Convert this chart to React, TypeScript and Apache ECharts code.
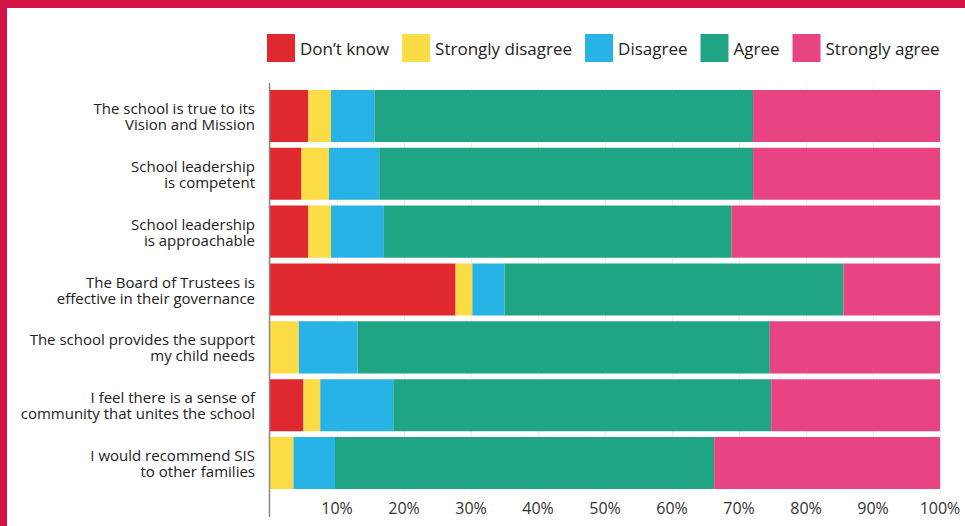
import React, { useEffect, useRef } from "react";
import * as echarts from "echarts";

const categories = [
  "The school is true to its\nVision and Mission",
  "School leadership\nis competent",
  "School leadership\nis approachable",
  "The Board of Trustees is\neffective in their governance",
  "The school provides the support\nmy child needs",
  "I feel there is a sense of\ncommunity that unites the school",
  "I would recommend SIS\nto other families",
];

const dontKnow = [5.7, 4.7, 5.7, 27.7, 0, 5.0, 0];
const stronglyDisagree = [3.4, 4.1, 3.4, 2.5, 4.3, 2.5, 3.5];
const disagree = [6.5, 7.5, 7.9, 4.8, 8.8, 10.9, 6.2];
const agree = [56.5, 55.8, 51.9, 50.6, 61.5, 56.4, 56.6];
const stronglyAgree = [27.9, 27.9, 31.1, 14.4, 25.4, 25.2, 33.7];

const seriesNames = ["Don\u2019t know", "Strongly disagree", "Disagree", "Agree", "Strongly agree"];
const seriesColors = ["#e0292e", "#fcdc45", "#27b3e6", "#1fa584", "#e84383"];
const seriesData = [dontKnow, stronglyDisagree, disagree, agree, stronglyAgree];

const xTicks = [0, 10, 20, 30, 40, 50, 60, 70, 80, 90, 100];

export default function App() {
  const ref = useRef<HTMLDivElement>(null);
  useEffect(() => {
    if (!ref.current) return;
    const chart = echarts.init(ref.current, null, { renderer: "svg" });
    const font = "'Open Sans', 'Noto Sans', sans-serif";
    chart.setOption({
      animation: false,
      backgroundColor: "#ffffff",
      textStyle: { fontFamily: font },
      legend: {
        top: 34,
        left: 267,
        padding: 0,
        itemWidth: 28,
        itemHeight: 28,
        itemGap: 13,
        icon: "rect",
        textStyle: { fontSize: 17, color: "#222", fontFamily: font },
        data: seriesNames,
      },
      grid: { left: 270, right: 25, top: 87, bottom: 34, containLabel: false },
      xAxis: {
        type: "value",
        min: 0,
        max: 100,
        interval: 10,
        axisLine: { show: false },
        axisTick: { show: false },
        splitLine: { show: true, lineStyle: { color: "#ececec", width: 1 } },
        axisLabel: {
          fontSize: 16,
          color: "#333",
          margin: 8,
          fontFamily: font,
          formatter: (v: number) => (v === xTicks[0] ? "" : v + "%"),
        },
      },
      yAxis: {
        type: "category",
        inverse: true,
        data: categories,
        axisLine: { show: false },
        axisTick: { show: false },
        axisLabel: {
          fontSize: 15,
          lineHeight: 16,
          color: "#222",
          margin: 15,
          align: "right",
          fontFamily: font,
        },
      },
      graphic: [
        { type: "rect", shape: { x: 0, y: 0, width: 965, height: 8 }, style: { fill: "#d31245" }, z: 100 },
        { type: "rect", shape: { x: 0, y: 0, width: 7, height: 526 }, style: { fill: "#d31245" }, z: 100 },
        { type: "line", shape: { x1: 269.5, y1: 83, x2: 269.5, y2: 517 }, style: { stroke: "#8a8a8a", lineWidth: 1.5 }, z: 100 },
      ],
      series: seriesNames.map((name, i) => ({
        name,
        type: "bar",
        stack: "total",
        barCategoryGap: "10%",
        itemStyle: { color: seriesColors[i] },
        data: seriesData[i],
      })),
    });
    return () => chart.dispose();
  }, []);
  return (
    <div
      ref={ref}
      style={{ position: "fixed", left: 0, top: 0, width: 965, height: 526 }}
    />
  );
}
